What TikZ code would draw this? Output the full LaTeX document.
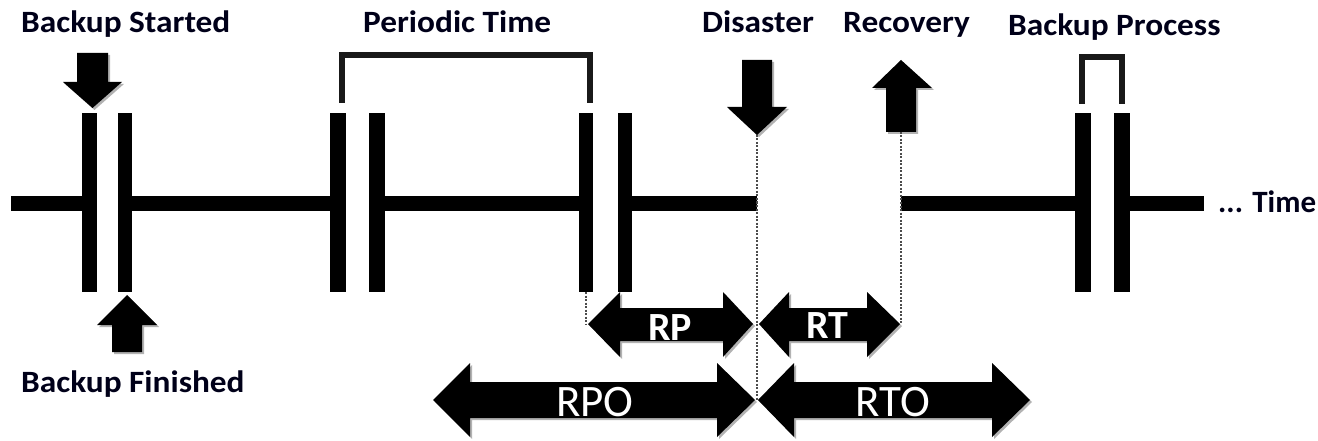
\documentclass[tikz,border=0pt]{standalone}
\usepackage{fontspec}
\usepackage{graphicx}
\setmainfont{Carlito}
\usetikzlibrary{shadows}
\newcommand\stretchtxt[1]{\scalebox{1.075}[1]{#1}}
\begin{document}
\begin{tikzpicture}[x=1pt,y=-1pt,
  lbl/.style={inner sep=0pt,anchor=base west,font=\bfseries\fontsize{31}{36}\selectfont,text=black!90!blue},
  wlbl/.style={inner sep=0pt,text=white,font=\bfseries\fontsize{40}{44}\selectfont},
  wlblbig/.style={inner sep=0pt,text=white,font=\fontsize{45}{50}\selectfont},
  tick/.style={fill=black},
  bar/.style={fill=black},
  bigarrow/.style={fill=black,drop shadow={shadow xshift=2pt,shadow yshift=-2pt,opacity=0.3,fill=black}},
  bracket/.style={draw=black!90,line width=6pt,line cap=butt,line join=miter},
  guide/.style={draw=black!70,line width=1.1pt,dash pattern=on 2pt off 1.5pt}]
\useasboundingbox (0,0) rectangle (1318,441);
% timeline segments
\fill[bar] (11,196) rectangle (82,211);
\fill[bar] (132,196) rectangle (330,211);
\fill[bar] (385,196) rectangle (579,211);
\fill[bar] (632,196) rectangle (757,211);
\fill[bar] (901,196) rectangle (1075,211);
\fill[bar] (1130,196) rectangle (1204,211);
% ticks
\foreach \a/\b in {82/97,118/132,330/346,369/385,579/593,618/632,1075/1091,1114/1130}
  \fill[tick] (\a,113) rectangle (\b,292);
\coordinate (t3b) at (586,292);
% brackets
\draw[bracket] (342,103) -- (342,55) -- (590,55) -- (590,103);
\draw[bracket] (1082,104) -- (1082,57) -- (1122,57) -- (1122,104);
% vertical arrows
\fill[bigarrow] (77,53) -- (108,53) -- (108,82) -- (122,82) -- (92.5,108) -- (63,82) -- (77,82) -- cycle;
\fill[bigarrow] (112,352) -- (142,352) -- (142,325) -- (157,325) -- (127,295) -- (97,325) -- (112,325) -- cycle;
\fill[bigarrow] (742,60) -- (772,60) -- (772,107) -- (787,107) -- (757,135) -- (727,107) -- (742,107) -- cycle;
\fill[bigarrow] (886,132) -- (916,132) -- (916,88) -- (932,88) -- (901,60) -- (872,88) -- (886,88) -- cycle;
\coordinate (dis) at (757,135);
\coordinate (rec) at (901,132);
% horizontal double arrows
\fill[bigarrow] (588,324) -- (620,292) -- (620,308) -- (723,308) -- (723,292) -- (753,324) -- (723,357) -- (723,341) -- (620,341) -- (620,357) -- cycle;
\fill[bigarrow] (759,324) -- (789,292) -- (789,308) -- (867,308) -- (867,292) -- (900,324) -- (867,357) -- (867,341) -- (789,341) -- (789,357) -- cycle;
\fill[bigarrow] (433,400) -- (470,363) -- (470,382) -- (717,382) -- (717,363) -- (755,400) -- (717,437) -- (717,418) -- (470,418) -- (470,437) -- cycle;
\fill[bigarrow] (758,400) -- (794,363) -- (794,382) -- (992,382) -- (992,363) -- (1030,400) -- (992,437) -- (992,418) -- (794,418) -- (794,437) -- cycle;
\coordinate (rpl) at (586,324);
\coordinate (rtr) at (901,324);
\coordinate (mid) at (757,400);
% guides
\draw[guide] (t3b) -- (rpl);
\draw[guide] (dis) -- (mid);
\draw[guide] (rec) -- (rtr);
% labels
\node[lbl] (bs) at (21,33) {\stretchtxt{Backup Started}};
\node[lbl] (bf) at (21,392) {\stretchtxt{Backup Finished}};
\node[lbl] (pt) at (363,33) {\stretchtxt{Periodic Time}};
\node[lbl] (ds) at (702,33) {\stretchtxt{Disaster}};
\node[lbl] (rc) at (843,33) {\stretchtxt{Recovery}};
\node[lbl] (bp) at (1008,36) {\stretchtxt{Backup Process}};
\node[lbl] (tm) at (1218,212) {... Time};
\node[wlbl] (rp) at (670,328) {RP};
\node[wlbl] (rt) at (827,326) {RT};
\node[wlblbig] (rpo) at (595,402) {RPO};
\node[wlblbig] (rto) at (893,402) {RTO};
\end{tikzpicture}
\end{document}
